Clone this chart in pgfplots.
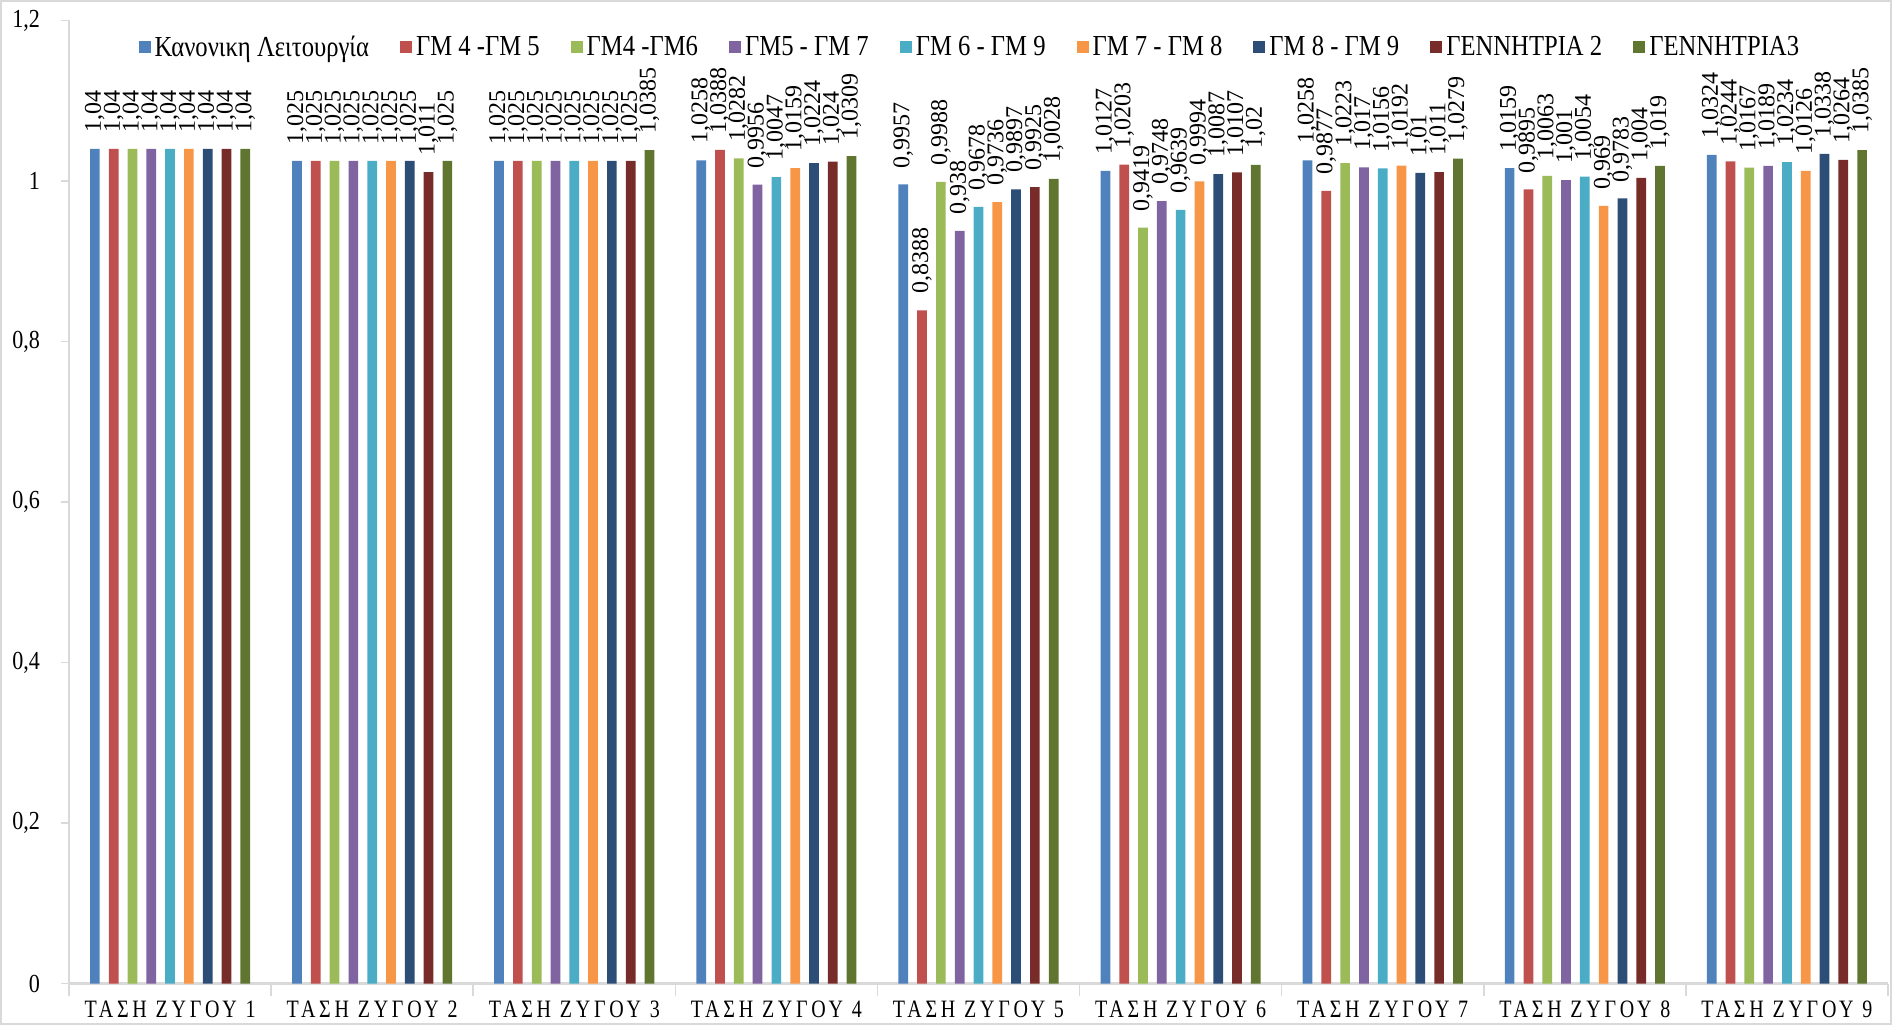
\documentclass[border=0pt]{standalone}
\usepackage{fontspec}
\setmainfont{Liberation Serif}
\newfontfamily\condfont[FakeStretch=0.85]{Liberation Serif}
\newfontfamily\catfont[FakeStretch=0.8,LetterSpace=15]{Liberation Serif}
\usepackage{pgfplots}
\usepackage{pgfplotstable}
\pgfplotsset{compat=1.18}

\definecolor{c1}{HTML}{4F81BD}
\definecolor{c2}{HTML}{C0504D}
\definecolor{c3}{HTML}{9BBB59}
\definecolor{c4}{HTML}{8064A2}
\definecolor{c5}{HTML}{4BACC6}
\definecolor{c6}{HTML}{F79646}
\definecolor{c7}{HTML}{2C4D75}
\definecolor{c8}{HTML}{772C2A}
\definecolor{c9}{HTML}{5F7530}
\definecolor{axgray}{HTML}{D9D9D9}

% bus voltages (p.u.) for each operating case
\pgfplotstableread{
x  s1     s2     s3     s4     s5     s6     s7     s8     s9
0  1.04   1.04   1.04   1.04   1.04   1.04   1.04   1.04   1.04
1  1.025  1.025  1.025  1.025  1.025  1.025  1.025  1.011  1.025
2  1.025  1.025  1.025  1.025  1.025  1.025  1.025  1.025  1.0385
3  1.0258 1.0388 1.0282 0.9956 1.0047 1.0159 1.0224 1.024  1.0309
4  0.9957 0.8388 0.9988 0.938  0.9678 0.9736 0.9897 0.9925 1.0028
5  1.0127 1.0203 0.9419 0.9748 0.9639 0.9994 1.0087 1.0107 1.02
6  1.0258 0.9877 1.0223 1.017  1.0156 1.0192 1.01   1.011  1.0279
7  1.0159 0.9895 1.0063 1.001  1.0054 0.969  0.9783 1.004  1.019
8  1.0324 1.0244 1.0167 1.0189 1.0234 1.0126 1.0338 1.0264 1.0385
}\datatable

\begin{document}
\begin{tikzpicture}
\useasboundingbox (0,0) rectangle (946pt,512.5pt);
\draw[axgray, line width=0.8pt] (0.4pt,0.4pt) rectangle (945.6pt,512.1pt);
\begin{axis}[
  at={(34.5pt,20.75pt)}, anchor=south west,
  scale only axis, width=909.5pt, height=481.5pt,
  ybar=4.55pt, bar width=4.85pt,
  xmin=-0.5, xmax=8.5, ymin=0, ymax=1.2,
  axis x line=bottom, axis y line=left,
  axis line style={draw=axgray, line width=1.2pt, -},
  xtick={0,...,8},
  xticklabels={ΤΑΣΗ ΖΥΓΟΥ 1,ΤΑΣΗ ΖΥΓΟΥ 2,ΤΑΣΗ ΖΥΓΟΥ 3,ΤΑΣΗ ΖΥΓΟΥ 4,ΤΑΣΗ ΖΥΓΟΥ 5,ΤΑΣΗ ΖΥΓΟΥ 6,ΤΑΣΗ ΖΥΓΟΥ 7,ΤΑΣΗ ΖΥΓΟΥ 8,ΤΑΣΗ ΖΥΓΟΥ 9},
  xticklabel style={font=\catfont\fontsize{12.5}{14}\selectfont, yshift=-1pt},
  xtick style={draw=none},
  extra x ticks={-0.5,0.5,...,8.5},
  extra x tick labels={},
  extra x tick style={xtick style={draw=axgray, line width=0.8pt}, major tick length=6pt, tick align=outside},
  ytick={0,0.2,...,1.2},
  ytick style={draw=axgray, line width=0.8pt},
  major tick length=4pt, tick align=outside,
  yticklabel style={font=\condfont\fontsize{13}{15}\selectfont, xshift=-7pt},
  /pgf/number format/.cd, use comma, assume math mode=true, precision=4,
  /pgfplots/.cd,
  enlarge x limits=false,
  clip=false,
  nodes near coords,
  every node near coord/.append style={font=\fontsize{12}{13}\selectfont, rotate=90, anchor=west, inner xsep=8pt, inner ysep=0pt, text=black},
  legend columns=-1,
  legend style={at={(0.038,0.972)}, anchor=west, draw=none, fill=none,
    font=\condfont\fontsize{14.5}{17}\selectfont, inner xsep=0pt,
    /tikz/every even column/.append style={column sep=13.5pt}},
  legend image code/.code={\fill (0pt,-3pt) rectangle (6pt,3pt);},
  legend cell align=left,
]
\addplot[fill=c1, draw=none] table[x=x,y=s1]{\datatable};
\addplot[fill=c2, draw=none] table[x=x,y=s2]{\datatable};
\addplot[fill=c3, draw=none] table[x=x,y=s3]{\datatable};
\addplot[fill=c4, draw=none] table[x=x,y=s4]{\datatable};
\addplot[fill=c5, draw=none] table[x=x,y=s5]{\datatable};
\addplot[fill=c6, draw=none] table[x=x,y=s6]{\datatable};
\addplot[fill=c7, draw=none] table[x=x,y=s7]{\datatable};
\addplot[fill=c8, draw=none] table[x=x,y=s8]{\datatable};
\addplot[fill=c9, draw=none] table[x=x,y=s9]{\datatable};
\legend{Κανονικη Λειτουργία,ΓΜ 4 -ΓΜ 5,ΓΜ4 -ΓΜ6,ΓΜ5 - ΓΜ 7,ΓΜ 6 - ΓΜ 9,ΓΜ 7 - ΓΜ 8,ΓΜ 8 - ΓΜ 9,ΓΕΝΝΗΤΡΙΑ 2,ΓΕΝΝΗΤΡΙΑ3}
\end{axis}
\end{tikzpicture}
\end{document}
